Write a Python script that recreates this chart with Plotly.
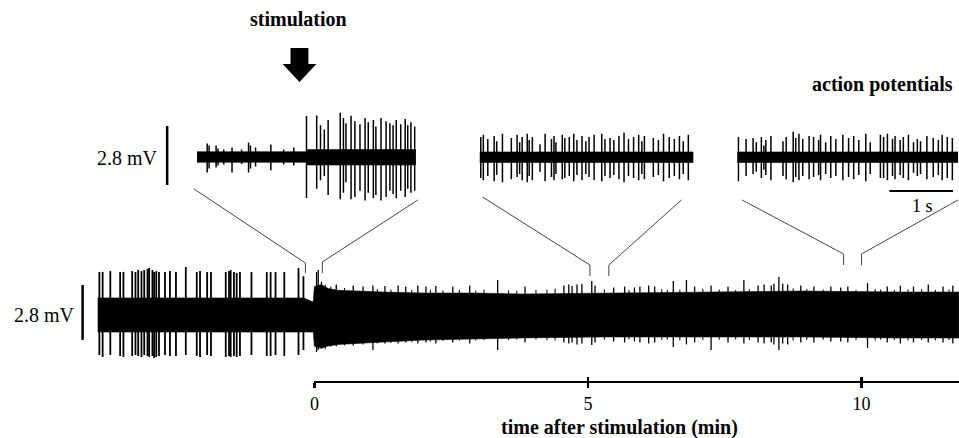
import plotly.graph_objects as go

W, H = 959, 438
FONT = "Liberation Serif"

# ---------------- data ----------------
# Long recording: time after stimulation (min), voltage (mV)
band_t = [-3.96, -0.20, -0.02, 0.00, 0.13, 0.25, 0.44, 0.71, 1.25, 1.98, 2.89, 3.80, 5.25, 7.07, 8.89, 10.71, 11.78]
band_hi = [0.87, 0.87, 0.66, 1.45, 1.55, 1.35, 1.26, 1.22, 1.17, 1.12, 1.12, 1.07, 1.12, 1.17, 1.22, 1.17, 1.17]
band_lo = [-0.87, -0.87, -0.87, -1.60, -1.70, -1.58, -1.50, -1.45, -1.38, -1.28, -1.22, -1.17, -1.12, -1.12, -1.12, -1.17, -1.17]

pre_t = [-3.93, -3.87, -3.73, -3.55, -3.49, -3.33, -3.27, -3.22, -3.16, -3.11, -3.05, -3.02, -2.96, -2.93, -2.89,
         -2.84, -2.73, -2.64, -2.53, -2.35, -2.15, -2.09, -1.96, -1.89, -1.62, -1.56, -1.53, -1.47, -1.42, -1.36,
         -1.15, -0.87, -0.80, -0.71, -0.55, -0.29, -0.20]
pre_hi = [2.19, 2.20, 2.24, 2.19, 2.20, 2.24, 2.19, 2.30, 2.24, 2.30, 2.35, 2.40, 2.30, 2.19, 2.24,
          2.19, 2.19, 2.24, 2.19, 2.45, 2.19, 2.24, 2.19, 2.19, 2.19, 2.24, 2.30, 2.19, 2.14, 2.19,
          2.19, 2.19, 2.19, 2.19, 2.19, 2.40, 1.98]
pre_lo = [-2.04, -2.14, -2.04, -2.09, -2.14, -2.09, -2.04, -2.09, -2.14, -2.04, -2.09, -2.14, -2.09, -2.19, -2.14,
          -2.09, -2.04, -2.09, -2.09, -2.04, -2.09, -2.14, -2.04, -2.09, -2.14, -2.09, -2.14, -2.09, -2.14, -2.09,
          -2.04, -2.09, -2.09, -2.04, -2.09, -2.04, -1.79]

post_t = [0.04, 0.07, 0.13, 0.40, 0.71, 0.89, 1.07, 1.29, 1.53, 1.67, 1.89, 2.04, 2.22, 2.53, 2.84,
          3.35, 3.85, 4.56, 4.65, 4.71, 4.80, 4.89, 5.07, 5.13, 5.47, 5.67, 5.85, 5.95, 6.11, 6.22,
          6.56, 6.80, 6.95, 7.25, 7.56, 7.85, 8.11, 8.22, 8.35, 8.40, 8.49, 8.56, 8.65, 8.89, 9.13,
          9.44, 9.62, 9.75, 10.11, 10.47, 10.71, 10.95, 11.22, 11.49, 11.67]
post_hi = [2.19, 2.30, 1.70, 1.55, 1.50, 1.45, 1.50, 1.48, 1.50, 1.45, 1.50, 1.45, 1.48, 1.45, 1.50,
           1.79, 1.45, 1.50, 1.55, 1.48, 1.55, 1.60, 1.73, 1.50, 1.40, 1.45, 1.40, 1.45, 1.50, 1.45,
           1.73, 1.79, 1.45, 1.50, 1.45, 1.79, 1.50, 1.55, 1.50, 1.60, 1.94, 1.60, 1.55, 1.50, 1.45,
           1.45, 1.40, 1.45, 1.63, 1.45, 1.50, 1.45, 1.55, 1.45, 1.50]
post_lo = [-1.89, -1.79, -1.70, -1.60, -1.55, -1.50, -1.79, -1.45, -1.45, -1.40, -1.45, -1.40, -1.45, -1.40, -1.45,
           -1.79, -1.40, -1.40, -1.45, -1.40, -1.50, -1.45, -1.53, -1.40, -1.35, -1.40, -1.35, -1.40, -1.45, -1.40,
           -1.63, -1.50, -1.40, -1.79, -1.40, -1.45, -1.40, -1.45, -1.40, -1.50, -1.79, -1.45, -1.50, -1.40, -1.40,
           -1.35, -1.35, -1.40, -1.68, -1.40, -1.45, -1.40, -1.40, -1.40, -1.45]
# small deflections on the edges of the post-stimulation noise band
fuzz_t = [0.20, 0.30, 0.55, 1.15, 1.40, 1.78, 2.12, 2.35, 2.65, 2.95, 3.10, 3.55, 3.70, 4.05, 4.25, 4.40,
          5.30, 5.75, 6.35, 6.45, 6.68, 7.10, 7.40, 7.70, 7.95, 8.75, 9.00, 9.30, 9.90, 10.25, 10.35,
          10.60, 10.85, 11.10, 11.35, 11.60]
fuzz_hi = [1.55, 1.45, 1.38, 1.32, 1.30, 1.28, 1.30, 1.26, 1.28, 1.25, 1.30, 1.26, 1.24, 1.28, 1.30, 1.35,
           1.30, 1.28, 1.32, 1.28, 1.30, 1.34, 1.30, 1.28, 1.32, 1.36, 1.32, 1.30, 1.28, 1.32, 1.30,
           1.28, 1.30, 1.32, 1.28, 1.30]
fuzz_lo = [-1.75, -1.62, -1.55, -1.45, -1.42, -1.38, -1.35, -1.32, -1.30, -1.30, -1.28, -1.28, -1.26, -1.25, -1.28, -1.30,
           -1.26, -1.25, -1.28, -1.26, -1.30, -1.28, -1.26, -1.25, -1.28, -1.30, -1.28, -1.26, -1.28, -1.30, -1.26,
           -1.28, -1.30, -1.28, -1.30, -1.28]

# Insets: time (s), voltage (mV)
ins1_band_t = [0.0, 1.72, 1.74, 3.44]
ins1_band_hi = [0.25, 0.25, 0.35, 0.35]
ins1_band_lo = [-0.25, -0.25, -0.38, -0.38]
ins1_t = [0.16, 0.19, 0.30, 0.33, 0.42, 0.55, 0.70, 0.81, 0.84, 0.92, 1.16, 1.36, 1.52,
          1.72, 1.88, 1.94, 2.00, 2.06, 2.25, 2.30, 2.34, 2.42, 2.48, 2.56, 2.64, 2.69, 2.77,
          2.81, 2.89, 2.97, 3.03, 3.08, 3.13, 3.20, 3.27, 3.31, 3.36, 3.42]
ins1_hi = [0.64, 0.55, 0.55, 0.40, 0.36, 0.45, 0.36, 0.69, 0.55, 0.45, 0.59, 0.36, 0.45,
           1.94, 1.97, 1.50, 1.30, 1.75, 2.10, 1.85, 1.60, 1.95, 1.70, 1.55, 1.85, 1.65, 1.75,
           1.45, 1.85, 1.70, 1.60, 1.50, 1.75, 1.55, 1.80, 1.50, 1.65, 1.45]
ins1_lo = [-0.73, -0.55, -0.50, -0.40, -0.36, -0.73, -0.33, -0.73, -0.55, -0.45, -0.64, -0.36, -0.40,
           -1.94, -1.50, -1.10, -0.90, -1.80, -2.00, -1.70, -1.20, -2.00, -1.90, -1.60, -2.06, -1.70, -1.95,
           -1.80, -2.06, -1.90, -1.60, -1.75, -1.95, -1.60, -1.90, -1.50, -1.70, -1.60]

ins2_band_t = [0.0, 3.36]
ins2_band_hi = [0.24, 0.24]
ins2_band_lo = [-0.26, -0.26]
ins2_t = [0.02, 0.06, 0.13, 0.23, 0.27, 0.36, 0.50, 0.59, 0.63, 0.67, 0.75, 0.78, 0.83, 0.95, 1.03,
          1.13, 1.17, 1.20, 1.30, 1.34, 1.41, 1.48, 1.53, 1.61, 1.67, 1.72, 1.80, 1.92, 1.97, 2.05,
          2.11, 2.19, 2.27, 2.34, 2.42, 2.50, 2.55, 2.59, 2.73, 2.81, 2.89, 2.98, 3.06, 3.14, 3.20, 3.28]
ins2_hi = [0.95, 1.05, 0.85, 1.00, 0.75, 1.10, 0.90, 1.05, 0.70, 0.95, 1.10, 0.80, 0.95, 0.60, 1.10,
           0.85, 1.00, 0.70, 1.05, 0.90, 0.95, 1.10, 0.80, 1.00, 0.75, 0.95, 1.05, 1.10, 0.85, 0.90,
           0.80, 1.00, 1.15, 0.85, 0.95, 1.05, 0.75, 1.00, 0.90, 0.80, 1.10, 0.95, 0.85, 1.00, 0.75, 1.05]
ins2_lo = [-1.00, -1.10, -0.90, -1.15, -0.85, -1.20, -1.05, -0.95, -0.80, -1.10, -1.20, -0.90, -1.10, -0.70, -1.15,
           -0.95, -1.10, -0.80, -1.05, -1.00, -0.90, -1.15, -0.85, -1.10, -0.80, -0.95, -1.10, -1.15, -0.90, -1.00,
           -0.85, -1.05, -1.20, -0.90, -1.00, -1.10, -0.80, -1.05, -0.95, -0.85, -1.15, -1.00, -0.90, -1.05, -0.80, -1.10]

ins3_band_t = [0.0, 3.47]
ins3_band_hi = [0.24, 0.24]
ins3_band_lo = [-0.26, -0.26]
ins3_t = [0.02, 0.14, 0.25, 0.30, 0.38, 0.42, 0.45, 0.53, 0.72, 0.77, 0.88, 0.92, 0.97, 1.03, 1.13,
          1.20, 1.28, 1.31, 1.39, 1.47, 1.55, 1.66, 1.75, 1.83, 1.91, 2.02, 2.09, 2.25, 2.30, 2.36,
          2.44, 2.48, 2.56, 2.61, 2.69, 2.77, 2.83, 2.88, 2.98, 3.08, 3.16, 3.22, 3.30, 3.38]
ins3_hi = [0.95, 0.85, 0.90, 0.70, 0.95, 0.55, 0.80, 1.00, 0.75, 0.95, 1.20, 0.90, 1.10, 0.85, 1.00,
           0.95, 0.80, 1.05, 0.70, 1.00, 0.85, 1.05, 0.90, 1.00, 0.80, 1.10, 0.70, 1.05, 0.95, 1.10,
           0.85, 1.00, 0.80, 0.95, 1.05, 0.70, 0.85, 0.75, 1.00, 0.90, 0.80, 1.05, 0.95, 0.90]
ins3_lo = [-1.15, -0.90, -0.80, -0.70, -1.00, -0.60, -0.85, -1.10, -0.90, -1.05, -1.20, -0.95, -1.10, -0.90, -1.05,
           -0.95, -0.85, -1.10, -0.80, -1.00, -0.90, -1.10, -0.95, -1.05, -0.85, -1.15, -0.80, -1.00, -1.00, -1.10,
           -0.90, -1.05, -0.85, -1.00, -1.10, -0.75, -0.90, -0.80, -1.05, -0.95, -0.85, -1.10, -1.00, -1.10]

time_ticks = [0, 5, 10]
time_labels = ["0", "5", "10"]
scale_mv = 2.8
scale_s = 1.0


# ---------------- helpers ----------------
def spikes(ts, his, los):
    xs, ys = [], []
    for t, h, l in zip(ts, his, los):
        xs += [t, t, None]
        ys += [l, h, None]
    return xs, ys


def band(ts, his, los):
    return ts + ts[::-1], his + los[::-1]


def px(x, y):
    return x / W, 1 - y / H


fig = go.Figure()

# main recording
bx, by = band(band_t, band_hi, band_lo)
fig.add_trace(go.Scatter(x=bx, y=by, fill="toself", fillcolor="black", mode="lines",
                         line=dict(color="black", width=0.6), xaxis="x", yaxis="y",
                         hoverinfo="skip", showlegend=False))
for ts, hs, ls, w in [(pre_t, pre_hi, pre_lo, 1.8), (post_t, post_hi, post_lo, 1.3),
                      (fuzz_t, fuzz_hi, fuzz_lo, 1.0)]:
    sx, sy = spikes(ts, hs, ls)
    fig.add_trace(go.Scatter(x=sx, y=sy, mode="lines", line=dict(color="black", width=w),
                             xaxis="x", yaxis="y", hoverinfo="skip", showlegend=False))

# insets
insets = [
    ("x2", ins1_band_t, ins1_band_hi, ins1_band_lo, ins1_t, ins1_hi, ins1_lo),
    ("x3", ins2_band_t, ins2_band_hi, ins2_band_lo, ins2_t, ins2_hi, ins2_lo),
    ("x4", ins3_band_t, ins3_band_hi, ins3_band_lo, ins3_t, ins3_hi, ins3_lo),
]
for xa, bt, bh, bl, st, sh, sl in insets:
    bx, by = band(bt, bh, bl)
    fig.add_trace(go.Scatter(x=bx, y=by, fill="toself", fillcolor="black", mode="lines",
                             line=dict(color="black", width=0.6), xaxis=xa, yaxis="y2",
                             hoverinfo="skip", showlegend=False))
    sx, sy = spikes(st, sh, sl)
    fig.add_trace(go.Scatter(x=sx, y=sy, mode="lines", line=dict(color="black", width=1.5),
                             xaxis=xa, yaxis="y2", hoverinfo="skip", showlegend=False))

# empty traces so that the time axes get drawn
for xa in ["x5", "x6"]:
    fig.add_trace(go.Scatter(x=[None], y=[None], xaxis=xa, yaxis="y", showlegend=False, hoverinfo="skip"))

# ---------------- axes ----------------
t0_px, px_per_min = 311.0, 55.0
main_xr = [-t0_px / px_per_min, (W - t0_px) / px_per_min]
base_main, px_per_mv_main = 315.0, 19.6
main_yr = [(base_main - H) / px_per_mv_main, base_main / px_per_mv_main]
base_ins, px_per_mv_ins = 157.0, 21.1
ins_yr = [(base_ins - H) / px_per_mv_ins, base_ins / px_per_mv_ins]
px_per_s = 64.0

hidden = dict(visible=False, showgrid=False, zeroline=False, fixedrange=True)
ins_dom = [(193, 413), (477, 692), (736, 958)]

layout_axes = dict(
    xaxis=dict(domain=[0, 1], range=main_xr, anchor="y", **hidden),
    yaxis=dict(domain=[0, 1], range=main_yr, anchor="x", **hidden),
    yaxis2=dict(domain=[0, 1], range=ins_yr, anchor="x2", **hidden),
)
for i, (a, b) in enumerate(ins_dom):
    layout_axes["xaxis%d" % (i + 2)] = dict(domain=[a / W, b / W], range=[0, (b - a) / px_per_s],
                                            anchor="y2", **hidden)

axis_pos = (H - 382) / H
common_time = dict(domain=[t0_px / W, 1], range=[0, (W - t0_px) / px_per_min], anchor="free",
                   position=axis_pos, showgrid=False, zeroline=False, fixedrange=True,
                   tickvals=time_ticks, ticktext=time_labels, ticklen=5, tickwidth=2.5,
                   tickcolor="black")
layout_axes["xaxis5"] = dict(common_time, showline=True, linewidth=2, linecolor="black",
                             ticks="outside", showticklabels=True,
                             tickfont=dict(family=FONT, size=18, color="black"))
layout_axes["xaxis6"] = dict(common_time, showline=False, ticks="inside", showticklabels=False)

fig.update_layout(width=W, height=H, autosize=False, margin=dict(l=0, r=0, t=0, b=0, pad=0),
                  paper_bgcolor="white", plot_bgcolor="rgba(0,0,0,0)", showlegend=False, **layout_axes)

# ---------------- shapes ----------------
shapes = []


def path(points):
    s = ""
    for k, (x, y) in enumerate(points):
        X, Y = px(x, y)
        s += ("M" if k == 0 else " L") + " %.5f,%.5f" % (X, Y)
    return s


thin = dict(color="#444444", width=1)
for pts in [
    [(190, 189), (302, 263), (302, 273)], [(319, 273), (319, 262), (415, 200)],
    [(480, 197), (588, 265), (588, 276)], [(607, 276), (607, 265), (680, 200)],
    [(741, 200), (843, 254), (843, 265)], [(861, 265), (861, 254), (958, 200)],
]:
    shapes.append(dict(type="path", path=path(pts), xref="paper", yref="paper", line=thin))

# stimulation arrow
shapes.append(dict(type="path", xref="paper", yref="paper", fillcolor="black", line=dict(width=0),
                   path=path([(287, 48), (305, 48), (305, 64), (313, 64), (296, 82), (279, 64), (287, 64)]) + " Z"))

# scale bars (lengths in data units)
shapes.append(dict(type="line", xref="paper", yref="y", x0=78 / W, x1=78 / W,
                   y0=-scale_mv / 2 + 0.13, y1=scale_mv / 2 + 0.13, line=dict(color="black", width=2.5)))
shapes.append(dict(type="line", xref="paper", yref="y2", x0=163 / W, x1=163 / W,
                   y0=-scale_mv / 2 + 0.07, y1=scale_mv / 2 + 0.07, line=dict(color="black", width=2.5)))
s_start = (889 - 736) / px_per_s
shapes.append(dict(type="line", xref="x4", yref="paper", x0=s_start, x1=s_start + scale_s,
                   y0=1 - 191 / H, y1=1 - 191 / H, line=dict(color="black", width=2)))
fig.update_layout(shapes=shapes)


# ---------------- text ----------------
def ann(text, x, y, xanchor="center", size=20, bold=False):
    X, Y = px(x, y)
    return dict(text=("<b>%s</b>" % text) if bold else text, x=X, y=Y, xref="paper", yref="paper",
                xanchor=xanchor, yanchor="middle", showarrow=False,
                font=dict(family=FONT, size=size, color="black"))


fig.update_layout(annotations=[
    ann("stimulation", 295, 19, bold=True),
    ann("action potentials", 955, 84, xanchor="right", bold=True),
    ann("2.8 mV", 72, 315, xanchor="right"), ann("2.8 mV", 156, 158, xanchor="right"),
    ann("1 s", 922, 206, size=18),
    ann("time after stimulation (min)", 618, 427, bold=True),
])

fig.write_html("out.html", config={"displayModeBar": False, "staticPlot": True},
               post_script="document.body.style.margin='0px';")
